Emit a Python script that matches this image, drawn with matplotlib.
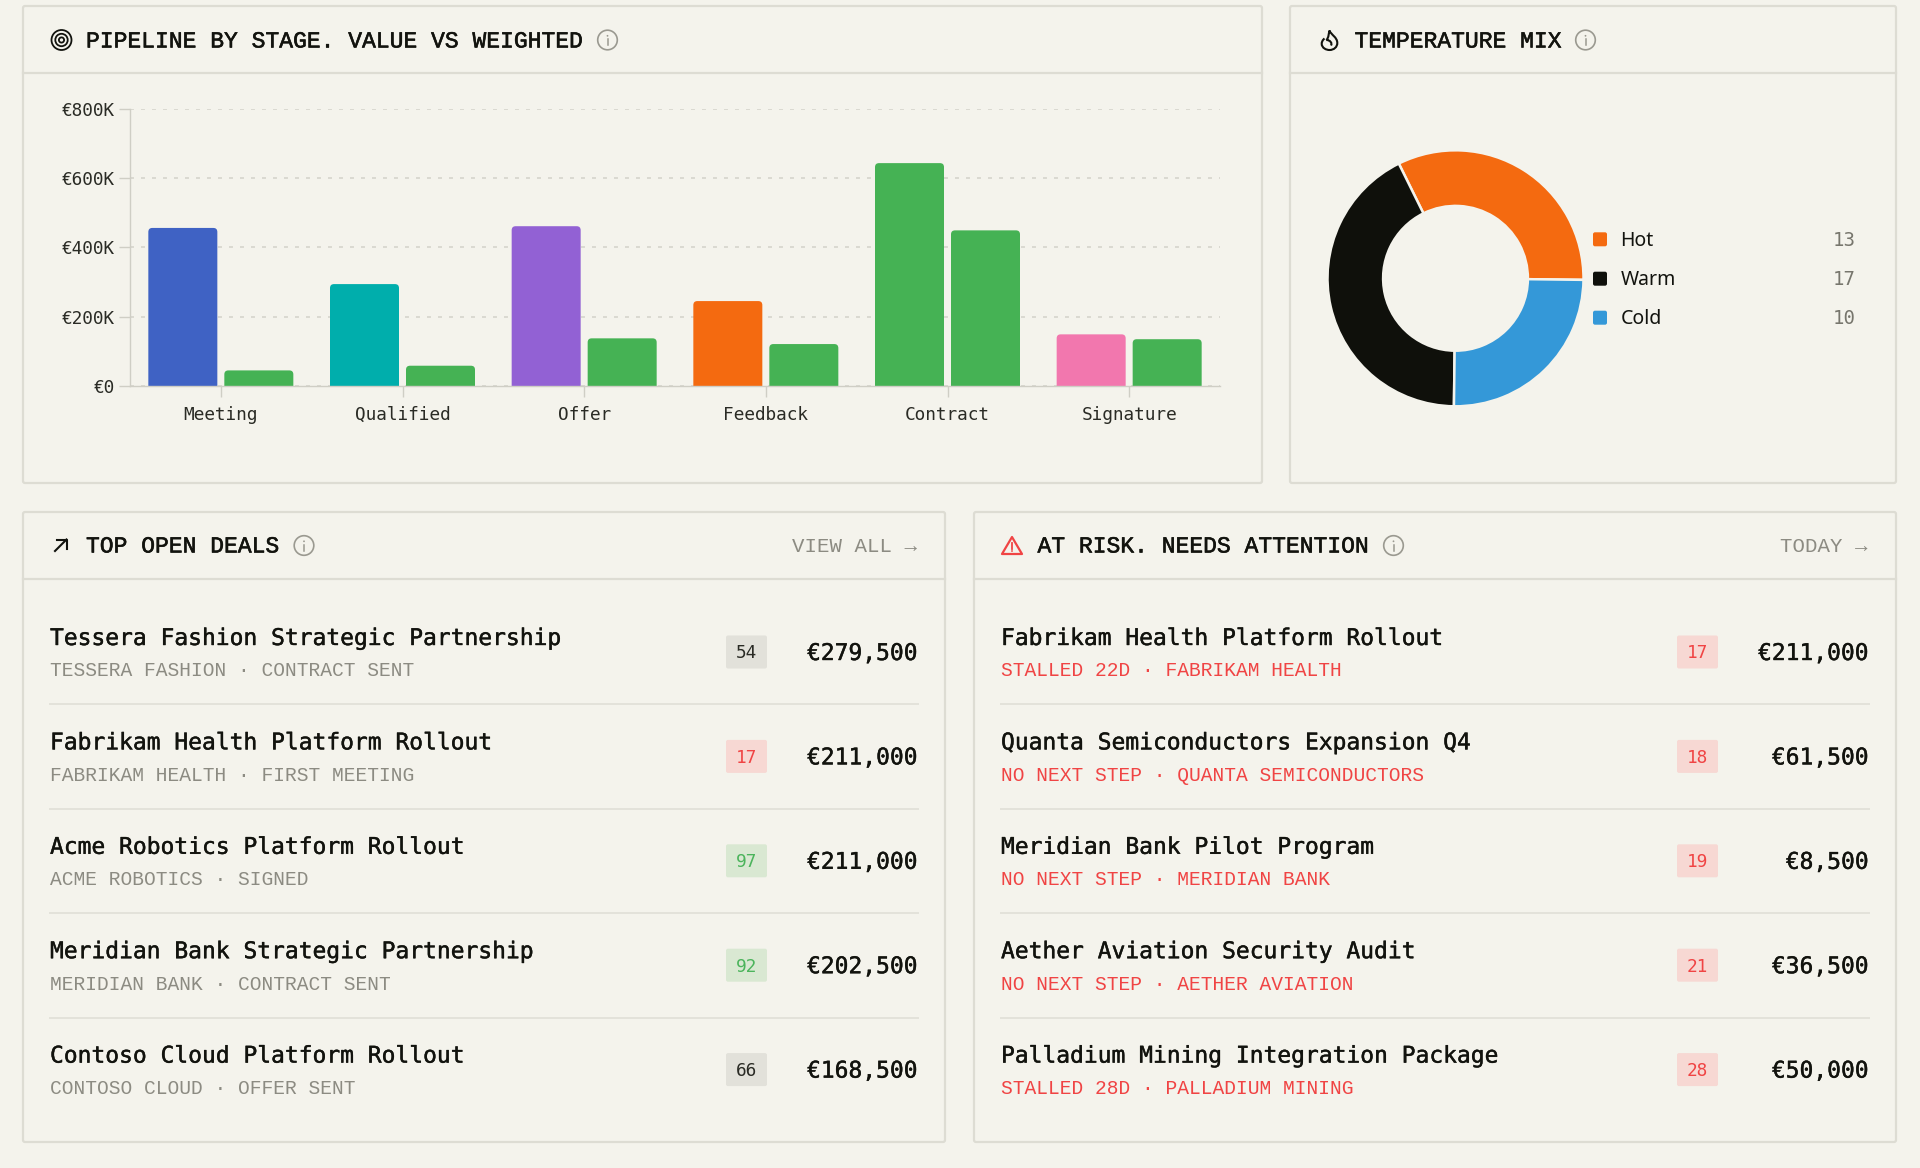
import matplotlib
matplotlib.use("Agg")
import matplotlib.pyplot as plt
import matplotlib.patheffects as pe
from matplotlib.patches import Circle, FancyBboxPatch, PathPatch
from matplotlib.path import Path

stages = ["Meeting", "Qualified", "Offer", "Feedback", "Contract", "Signature"]
total_value = [456000, 294000, 461000, 245000, 643000, 149000]
weighted_value = [45000, 58500, 137500, 121000, 449000, 135000]
stage_colors = ["#3f62c4", "#00aeac", "#9261d4", "#f46a10", "#45b254", "#f277ae"]
y_ticks = [0, 200000, 400000, 600000, 800000]
y_labels = ["€0", "€200K", "€400K", "€600K", "€800K"]

temp_labels = ["Hot", "Warm", "Cold"]
temp_counts = [13, 17, 10]
temp_colors = ["#f46a10", "#0f100b", "#3498d8"]

top_names = ["Tessera Fashion Strategic Partnership", "Fabrikam Health Platform Rollout",
             "Acme Robotics Platform Rollout", "Meridian Bank Strategic Partnership",
             "Contoso Cloud Platform Rollout"]
top_subs = ["TESSERA FASHION · CONTRACT SENT", "FABRIKAM HEALTH · FIRST MEETING",
            "ACME ROBOTICS · SIGNED", "MERIDIAN BANK · CONTRACT SENT", "CONTOSO CLOUD · OFFER SENT"]
top_scores = [54, 17, 97, 92, 66]
top_amounts = ["€279,500", "€211,000", "€211,000", "€202,500", "€168,500"]

risk_names = ["Fabrikam Health Platform Rollout", "Quanta Semiconductors Expansion Q4",
              "Meridian Bank Pilot Program", "Aether Aviation Security Audit",
              "Palladium Mining Integration Package"]
risk_subs = ["STALLED 22D · FABRIKAM HEALTH", "NO NEXT STEP · QUANTA SEMICONDUCTORS",
             "NO NEXT STEP · MERIDIAN BANK", "NO NEXT STEP · AETHER AVIATION",
             "STALLED 28D · PALLADIUM MINING"]
risk_scores = [17, 18, 19, 21, 28]
risk_amounts = ["€211,000", "€61,500", "€8,500", "€36,500", "€50,000"]

BG = "#f4f3ec"
BORDER = "#dddcd3"
INK = "#12130e"
MUTED = "#8c8b82"
RED = "#f04444"
MONO = "DejaVu Sans Mono"
SPACED = "Liberation Mono"
W, H = 1920, 1168


def px(size):
    return size * 0.72


def heavier(w, color=INK):
    return [pe.withStroke(linewidth=w, foreground=color)]


fig = plt.figure(figsize=(W / 100, H / 100), dpi=100, facecolor=BG)

# page layer in pixel coordinates
page = fig.add_axes([0, 0, 1, 1])
page.set_xlim(0, W)
page.set_ylim(H, 0)
page.axis("off")


def panel(x0, x1, y0, y1, head_y):
    page.add_patch(FancyBboxPatch((x0, y0), x1 - x0, y1 - y0, boxstyle="round,pad=0,rounding_size=2",
                                  fc=BG, ec=BORDER, lw=1.6))
    page.plot([x0, x1], [head_y, head_y], color=BORDER, lw=1.6)


def info_icon(x, y):
    page.add_patch(Circle((x, y), 9.8, fc="none", ec="#9a9990", lw=1.2))
    page.plot([x, x], [y - 1, y + 5], color="#9a9990", lw=1.1)
    page.add_patch(Circle((x, y - 4.2), 0.9, fc="#9a9990", ec="none"))


def title(x, y, s):
    page.text(x, y, s, family=SPACED, fontsize=px(23), color=INK, va="baseline",
              path_effects=heavier(0.4))


def action(x, y, s):
    page.text(x, y, s, family=SPACED, fontsize=px(20.8), color=MUTED, ha="right", va="baseline")


panel(23, 1262, 6, 483, 73)
panel(1290, 1896, 6, 483, 73)
panel(23, 945, 512, 1142, 579)
panel(974, 1896, 512, 1142, 579)

# header icons
for r in (10, 6.2, 2.6):
    page.add_patch(Circle((61.5, 40), r, fc="none", ec=INK, lw=1.3))
title(86, 47.5, "PIPELINE BY STAGE. VALUE VS WEIGHTED")
info_icon(607.5, 40)

flame = Path([(1324.5, 38.5), (1322.5, 40), (1321.7, 42), (1321.7, 44),
              (1322, 48), (1326, 50), (1329.5, 50),
              (1334, 50), (1337.3, 47), (1337.3, 43),
              (1337.3, 37), (1331, 35), (1329.5, 30.5),
              (1328.5, 34), (1329, 37), (1326.5, 40),
              (1330, 40), (1332.5, 43), (1331, 45.5)],
             [Path.MOVETO] + [Path.CURVE4] * 18)
page.add_patch(PathPatch(flame, fc="none", ec=INK, lw=1.5))
title(1354.5, 47.5, "TEMPERATURE MIX")
info_icon(1585.5, 40)

page.plot([55, 66.5], [551, 539.5], color=INK, lw=1.5)
page.plot([57, 67, 67], [539.5, 539.5, 549], color=INK, lw=1.5)
title(86, 552.5, "TOP OPEN DEALS")
info_icon(304, 545.5)
action(917, 552.5, "VIEW ALL →")

warn = Path([(1012, 537), (1022, 554), (1002, 554), (1012, 537)],
            [Path.MOVETO, Path.LINETO, Path.LINETO, Path.CLOSEPOLY])
page.add_patch(PathPatch(warn, fc="none", ec=RED, lw=1.6, joinstyle="round"))
page.plot([1012, 1012], [542.5, 548.5], color=RED, lw=1.3)
page.add_patch(Circle((1012, 551), 0.9, fc=RED, ec="none"))
title(1037.5, 552.5, "AT RISK. NEEDS ATTENTION")
info_icon(1393.5, 545.5)
action(1867.5, 552.5, "TODAY →")


def badge(x0, cy, score, red=False):
    if red or score < 50:
        fc, tc = "#f7d8d3", RED
    elif score >= 90:
        fc, tc = "#d9e8d2", "#4cb45c"
    else:
        fc, tc = "#e2e1da", "#2a2b25"
    page.add_patch(FancyBboxPatch((x0, cy - 16.5), 41, 33, boxstyle="round,pad=0,rounding_size=2", fc=fc, ec="none"))
    page.text(x0 + 20.5, cy + 6.5, str(score), family=MONO, fontsize=px(17.8), color=tc, ha="center", va="baseline")


def rows(x0, x1, badge_x, names, subs, scores, amounts, sub_color, red=False):
    for i in range(len(names)):
        cy = 652 + 104.4 * i
        page.text(x0, cy - 7, names[i], family=MONO, fontsize=px(22.95), color=INK, va="baseline",
                  path_effects=heavier(0.3))
        page.text(x0, cy + 24.5, subs[i], family=SPACED, fontsize=px(19.65), color=sub_color, va="baseline")
        badge(badge_x, cy, scores[i], red)
        page.text(x1 + 0.5, cy + 8, amounts[i], family=MONO, fontsize=px(22.95), color=INK, ha="right", va="baseline",
                  path_effects=heavier(0.3))
        if i < len(names) - 1:
            page.plot([x0, x1], [cy + 52.3, cy + 52.3], color="#e3e2da", lw=1.4)


rows(50, 917.5, 726, top_names, top_subs, top_scores, top_amounts, MUTED)
rows(1001, 1868.5, 1677, risk_names, risk_subs, risk_scores, risk_amounts, RED, red=True)

# bar chart
ax = fig.add_axes([130 / W, 1 - 386 / H, 1090 / W, (386 - 108.7) / H], facecolor="none")
ax.set_xlim(0, len(stages))
ax.set_ylim(0, 800000)
band_w = 69 / (1090 / len(stages))
gap = 7 / (1090 / len(stages))
y_per_px = 800000 / (386 - 108.7)
x_per_px = len(stages) / 1090
xs = [i + 0.5 for i in range(len(stages))]


def rounded_bars(lefts, heights, colors):
    bars = ax.bar(lefts, heights, width=band_w, align="edge", color=colors, zorder=3)
    for b in bars:
        x, w, h = b.get_x(), b.get_width(), b.get_height()
        b.set_visible(False)
        ax.add_patch(FancyBboxPatch((x, -20000), w, h + 20000,
                                    boxstyle=f"round,pad=0,rounding_size={4 * x_per_px}",
                                    mutation_aspect=y_per_px / x_per_px,
                                    fc=b.get_facecolor(), ec="none", zorder=3))


rounded_bars([x - band_w - gap / 2 for x in xs], total_value, stage_colors)
rounded_bars([x + gap / 2 for x in xs], weighted_value, [stage_colors[4]] * len(stages))

ax.set_xticks(xs, stages)
ax.set_yticks(y_ticks, y_labels)
ax.tick_params(axis="both", length=8, width=1, color="#cfcec5", labelsize=px(17.8), labelcolor="#2a2b25")
ax.tick_params(axis="x", pad=6.5)
ax.tick_params(axis="y", pad=3)
for lab in ax.get_xticklabels() + ax.get_yticklabels():
    lab.set_family(MONO)
ax.grid(axis="y", color="#d3d2c9", lw=1.1, linestyle=(0, (2.6, 4.6)), zorder=1)
ax.set_axisbelow(True)
for s in ("top", "right"):
    ax.spines[s].set_visible(False)
ax.spines["left"].set_color("#cfcec5")
ax.spines["left"].set_linewidth(1)
ax.spines["bottom"].set_color("#cfcec5")
ax.spines["bottom"].set_linewidth(1)
ax.spines["bottom"].set_zorder(5)

# donut
r_out = 128
dax = fig.add_axes([(1455.5 - r_out) / W, 1 - (278.3 + r_out) / H, 2 * r_out / W, 2 * r_out / H])
dax.pie(temp_counts, colors=temp_colors, startangle=-0.7, radius=1, counterclock=True,
        wedgeprops=dict(width=1 - 72.4 / r_out, edgecolor=BG, linewidth=1.8))
dax.set_xlim(-1, 1)
dax.set_ylim(-1, 1)

# legend
for lab, n, c, y in zip(temp_labels, temp_counts, temp_colors, [239.3, 278.7, 317.7]):
    page.add_patch(FancyBboxPatch((1593, y - 7), 14, 14, boxstyle="round,pad=0,rounding_size=2", fc=c, ec="none"))
    page.text(1620.5, y + 6.5, lab, family="Noto Sans", fontsize=px(19.5), weight="medium", color=INK, va="baseline")
    page.text(1856, y + 6.5, str(n), family=MONO, fontsize=px(19), color="#77766d", ha="right", va="baseline")

fig.savefig("out.png", dpi=100, facecolor=BG)
